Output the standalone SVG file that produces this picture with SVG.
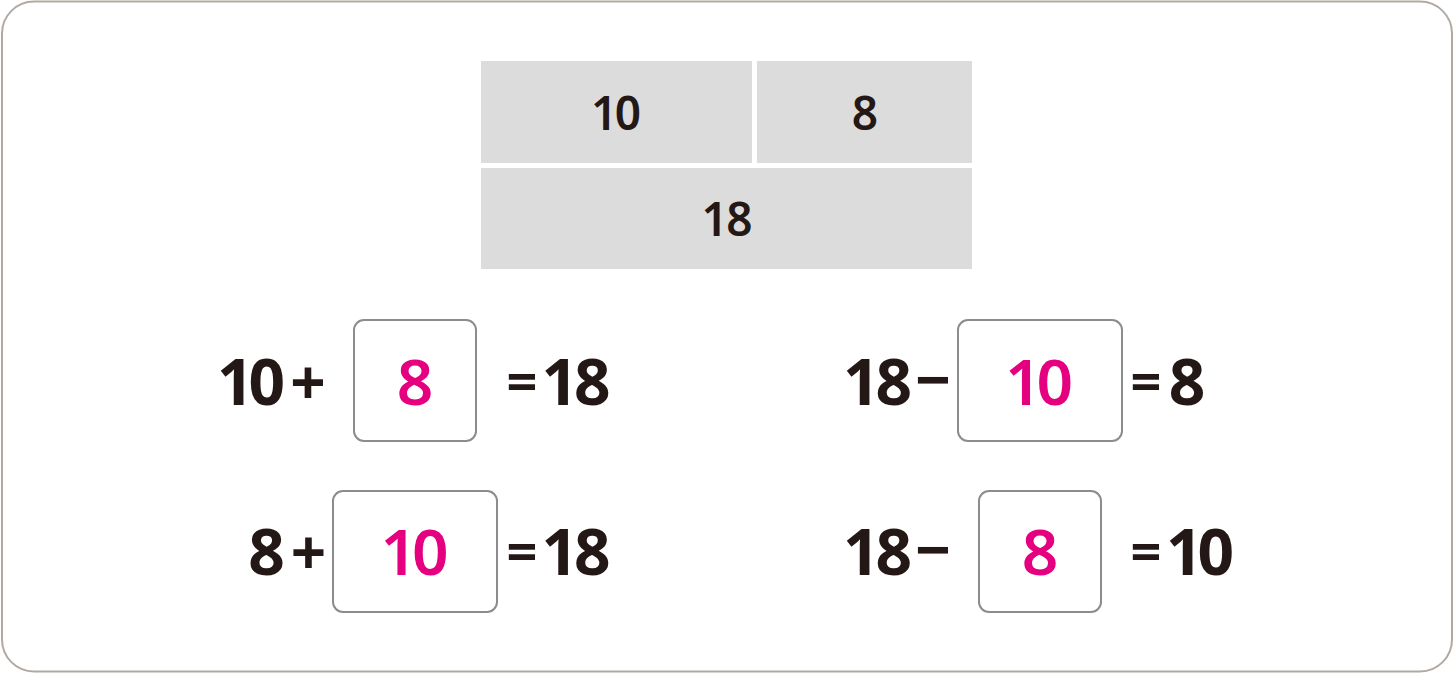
<svg xmlns="http://www.w3.org/2000/svg" width="1454" height="674" viewBox="0 0 1454 674">
<style>
.t{font-family:"Noto Sans","Liberation Sans",sans-serif;font-weight:700;text-anchor:middle;fill:#231815}
.big{font-size:64px}
.op{font-size:62px}
.eq{font-size:54px}
.cell{font-size:46px;font-weight:600}
.ans{fill:#e4007f;font-weight:600}
.cellbg{fill:#dcdcdc}
.box{fill:#ffffff;stroke:#8c8c8c;stroke-width:2}
</style>
<rect x="2" y="1.5" width="1450" height="670" rx="32" ry="32" fill="#ffffff" stroke="#b2aaa2" stroke-width="2"/>
<g id="bar">
  <rect class="cellbg" x="481" y="61" width="271" height="102"/>
  <rect class="cellbg" x="757" y="61" width="215" height="102"/>
  <rect class="cellbg" x="481" y="168" width="491" height="101"/>
  <text class="t cell" x="616" y="130" textLength="50" lengthAdjust="spacing">10</text>
  <text class="t cell" x="865" y="130">8</text>
  <text class="t cell" x="727" y="236" textLength="51" lengthAdjust="spacing">18</text>
</g>
<g id="eq1">
  <text class="t big" x="251" y="405" textLength="68" lengthAdjust="spacing">10</text>
  <text class="t op" x="308" y="405">+</text>
  <rect class="box" x="354" y="320" width="122" height="121" rx="10"/>
  <text class="t big ans" x="415" y="405">8</text>
  <text class="t eq" x="522" y="401">=</text>
  <text class="t big" x="576" y="405" textLength="69" lengthAdjust="spacing">18</text>
</g>
<g id="eq2">
  <text class="t big" x="266.5" y="575">8</text>
  <text class="t op" x="308.5" y="575">+</text>
  <rect class="box" x="333" y="491" width="164" height="121" rx="10"/>
  <text class="t big ans" x="414.5" y="575" textLength="68" lengthAdjust="spacing">10</text>
  <text class="t eq" x="522" y="571">=</text>
  <text class="t big" x="576" y="575" textLength="69" lengthAdjust="spacing">18</text>
</g>
<g id="eq3">
  <text class="t big" x="877.5" y="405" textLength="69" lengthAdjust="spacing">18</text>
  <text class="t op" x="933" y="402">−</text>
  <rect class="box" x="958" y="320" width="164" height="121" rx="10"/>
  <text class="t big ans" x="1039" y="405" textLength="68" lengthAdjust="spacing">10</text>
  <text class="t eq" x="1146" y="401">=</text>
  <text class="t big" x="1187" y="405">8</text>
</g>
<g id="eq4">
  <text class="t big" x="877.5" y="575" textLength="69" lengthAdjust="spacing">18</text>
  <text class="t op" x="933" y="572">−</text>
  <rect class="box" x="979" y="491" width="122" height="121" rx="10"/>
  <text class="t big ans" x="1040" y="575">8</text>
  <text class="t eq" x="1146" y="571">=</text>
  <text class="t big" x="1200" y="575" textLength="68" lengthAdjust="spacing">10</text>
</g>
<g id="connectors"></g>
</svg>
